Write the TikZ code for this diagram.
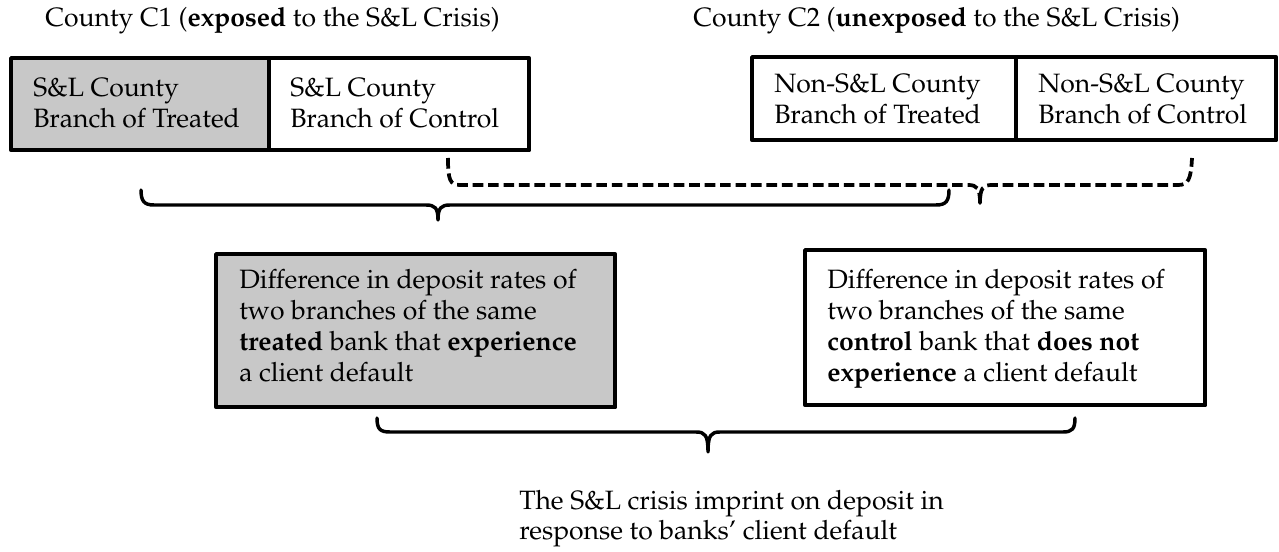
\documentclass[tikz,border=0pt]{standalone}
\usepackage[T1]{fontenc}
\usepackage{mathpazo}
\definecolor{boxgray}{RGB}{200,200,200}
\begin{document}
\begin{tikzpicture}[x=0.75pt,y=-0.75pt,
  font=\fontsize{19.9pt}{23.25pt}\selectfont,
  cell/.style={draw=black, line width=3.3pt, line join=round, inner sep=0pt, anchor=north west},
  txt/.style={anchor=base west, align=left, inner sep=0pt},
  ttl/.style={anchor=base west, inner sep=0pt},
  bracepath/.style={line width=2.6pt, line cap=round, line join=round},
  dashbrace/.style={line width=2.8pt, line join=round, dash pattern=on 8pt off 3.6pt}]
\useasboundingbox (0,0) rectangle (1279,552);

% titles
\node[ttl] (t1) at (45,27) {County C1 (\textbf{exposed} to the S\&L Crisis)};
\node[ttl] (t2) at (693,27) {County C2 (\textbf{unexposed} to the S\&L Crisis)};

% top left cells
\node[cell, fill=boxgray, minimum width=193.5pt, minimum height=69pt] (a1) at (9,56) {};
\node[cell, fill=white, minimum width=195pt, minimum height=69pt] (a2) at (267,56) {};
\node[txt] (a1t) at (33,128) {S\&L County\\Branch of Treated};
\node[txt] (a2t) at (290,128) {S\&L County\\Branch of Control};

% top right cells
\node[cell, fill=white, minimum width=198pt, minimum height=62.25pt] (b1) at (750,55) {};
\node[cell, fill=white, minimum width=195pt, minimum height=62.25pt] (b2) at (1014,55) {};
\node[txt] (b1t) at (774,124) {Non-S\&L County\\Branch of Treated};
\node[txt] (b2t) at (1038,124) {Non-S\&L County\\Branch of Control};

% brace end points
\coordinate (s1) at (141,190);
\coordinate (s2) at (949,190);
\coordinate (d1) at (448,158);
\coordinate (d2) at (1192,158);
\coordinate (u1) at (377,418);
\coordinate (u2) at (1075,418);

% solid brace (C1 pair)
\draw[bracepath] (s1) .. controls (141,201) and (144,205) .. (154,205) -- (426,205)
  .. controls (435,205) and (438,208) .. (438,220)
  .. controls (438,208) and (441,205) .. (450,205) -- (936,205)
  .. controls (946,205) and (949,201) .. (s2);

% dashed brace (control pair)
\draw[dashbrace] (d1) .. controls (448,180) and (450,185) .. (460,185) -- (968,185)
  .. controls (977,185) and (980,188) .. (980,203)
  .. controls (980,188) and (983,185) .. (992,185) -- (1178,185)
  .. controls (1188,185) and (1191,180) .. (d2);

% lower boxes
\node[cell, fill=boxgray, minimum width=299.25pt, minimum height=114.75pt] (g) at (214,252) {};
\node[cell, fill=white, minimum width=300pt, minimum height=116.25pt] (w) at (803,248) {};
\node[txt] (gt) at (239,382) {Difference in deposit rates of\\two branches of the same\\\textbf{treated} bank that \textbf{experience}\\a client default};
\node[txt] (wt) at (827,382) {Difference in deposit rates of\\two branches of the same\\\textbf{control} bank that \textbf{does not}\\\textbf{experience} a client default};

% bottom brace
\draw[bracepath] (u1) .. controls (377,429) and (380,432) .. (390,432) -- (696,432)
  .. controls (705,432) and (708,435) .. (708,452)
  .. controls (708,435) and (711,432) .. (720,432) -- (1063,432)
  .. controls (1072,432) and (1075,429) .. (u2);

% result
\node[txt, font=\fontsize{19.9pt}{22.5pt}\selectfont] (r) at (519,539) {The S\&L crisis imprint on deposit in\\response to banks' client default};
\end{tikzpicture}
\end{document}
